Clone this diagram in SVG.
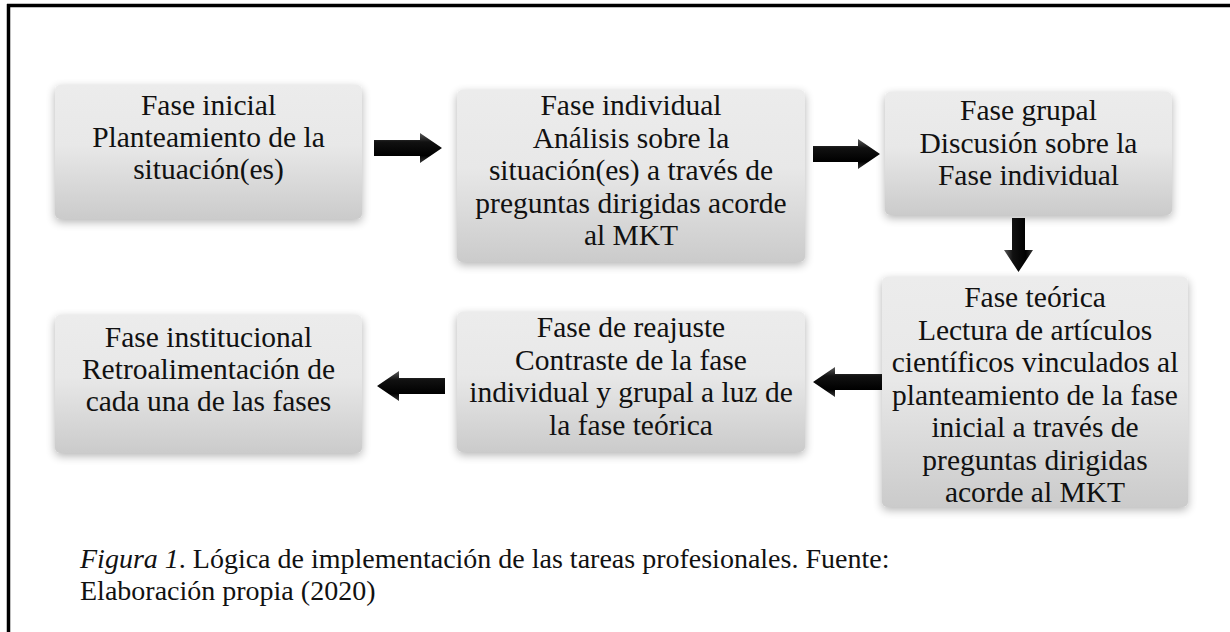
<svg xmlns="http://www.w3.org/2000/svg" width="1230" height="632" viewBox="0 0 1230 632">
<style>
  .box { fill: url(#boxGrad); filter: url(#shadow); }
  .t { font-family: "Liberation Serif", "Times New Roman", serif; font-size: 29.5px; fill: #111; text-anchor: middle; }
  .cap { font-family: "Liberation Serif", "Times New Roman", serif; font-size: 28px; fill: #111; }
  .arrow { fill: url(#arrowGradH); }
  .arrowV { fill: url(#arrowGradV); }
</style>
<defs>
  <linearGradient id="boxGrad" x1="0" y1="0" x2="0" y2="1">
    <stop offset="0" stop-color="#ececec"/>
    <stop offset="0.45" stop-color="#e8e8e8"/>
    <stop offset="1" stop-color="#cbcbcb"/>
  </linearGradient>
  <linearGradient id="arrowGradH" x1="0" y1="0" x2="0" y2="1">
    <stop offset="0" stop-color="#5a5a5a"/>
    <stop offset="0.3" stop-color="#111"/>
    <stop offset="0.75" stop-color="#000"/>
    <stop offset="1" stop-color="#3a3a3a"/>
  </linearGradient>
  <linearGradient id="arrowGradV" x1="0" y1="0" x2="1" y2="0">
    <stop offset="0" stop-color="#5a5a5a"/>
    <stop offset="0.3" stop-color="#111"/>
    <stop offset="0.75" stop-color="#000"/>
    <stop offset="1" stop-color="#3a3a3a"/>
  </linearGradient>
  <filter id="shadow" x="-10%" y="-15%" width="120%" height="135%">
    <feGaussianBlur in="SourceAlpha" stdDeviation="5"/>
    <feOffset dx="0" dy="3" result="b"/>
    <feComponentTransfer><feFuncA type="linear" slope="0.3"/></feComponentTransfer>
    <feMerge><feMergeNode/><feMergeNode in="SourceGraphic"/></feMerge>
  </filter>
</defs>
<rect x="0" y="0" width="1230" height="632" fill="#fff"/>
<!-- frame -->
<line x1="7" y1="5.5" x2="1230" y2="5.5" stroke="#000" stroke-width="3.5"/>
<line x1="8.5" y1="4" x2="8.5" y2="632" stroke="#000" stroke-width="3.5"/>

<g id="node-inicial">
  <rect class="box" x="55" y="85" width="307" height="134" rx="5"/>
  <text class="t" x="208.5" y="115">Fase inicial</text>
  <text class="t" x="208.5" y="147">Planteamiento de la</text>
  <text class="t" x="208.5" y="179">situación(es)</text>
</g>
<g id="node-individual">
  <rect class="box" x="457" y="90" width="348" height="172" rx="5"/>
  <text class="t" x="631" y="115">Fase individual</text>
  <text class="t" x="631" y="147.5">Análisis sobre la</text>
  <text class="t" x="631" y="180">situación(es) a través de</text>
  <text class="t" x="631" y="212.5">preguntas dirigidas acorde</text>
  <text class="t" x="631" y="245">al MKT</text>
</g>
<g id="node-grupal">
  <rect class="box" x="885" y="92" width="287" height="123" rx="5"/>
  <text class="t" x="1028.5" y="120">Fase grupal</text>
  <text class="t" x="1028.5" y="152.5">Discusión sobre la</text>
  <text class="t" x="1028.5" y="185">Fase individual</text>
</g>
<g id="node-teorica">
  <rect class="box" x="882" y="277" width="306" height="230" rx="5"/>
  <text class="t" x="1035" y="307">Fase teórica</text>
  <text class="t" x="1035" y="339.5">Lectura de artículos</text>
  <text class="t" x="1035" y="372">científicos vinculados al</text>
  <text class="t" x="1035" y="404.5">planteamiento de la fase</text>
  <text class="t" x="1035" y="437">inicial a través de</text>
  <text class="t" x="1035" y="469.5">preguntas dirigidas</text>
  <text class="t" x="1035" y="502">acorde al MKT</text>
</g>
<g id="node-reajuste">
  <rect class="box" x="457" y="312" width="348" height="140" rx="5"/>
  <text class="t" x="631" y="337">Fase de reajuste</text>
  <text class="t" x="631" y="369.5">Contraste de la fase</text>
  <text class="t" x="631" y="402">individual y grupal a luz de</text>
  <text class="t" x="631" y="434.5">la fase teórica</text>
</g>
<g id="node-institucional">
  <rect class="box" x="55" y="315" width="307" height="138" rx="5"/>
  <text class="t" x="208.5" y="347">Fase institucional</text>
  <text class="t" x="208.5" y="379">Retroalimentación de</text>
  <text class="t" x="208.5" y="411">cada una de las fases</text>
</g>

<g id="connectors">
  <polygon class="arrow" points="374,140 420,140 420,133 442,148 420,163 420,156 374,156"/>
  <polygon class="arrow" points="813,146 858,146 858,139 880,154 858,169 858,162 813,162"/>
  <polygon class="arrowV" points="1012,218 1025,218 1025,250 1033,250 1018.5,272 1004,250 1012,250"/>
  <polygon class="arrow" points="882,374 835,374 835,367 813,382 835,397 835,390 882,390"/>
  <polygon class="arrow" points="445,378 399,378 399,371 377,386 399,401 399,394 445,394"/>
</g>

<g id="caption">
  <text class="cap" x="80" y="568"><tspan font-style="italic">Figura 1</tspan>. Lógica de implementación de las tareas profesionales. Fuente:</text>
  <text class="cap" x="80" y="600">Elaboración propia (2020)</text>
</g>
</svg>
